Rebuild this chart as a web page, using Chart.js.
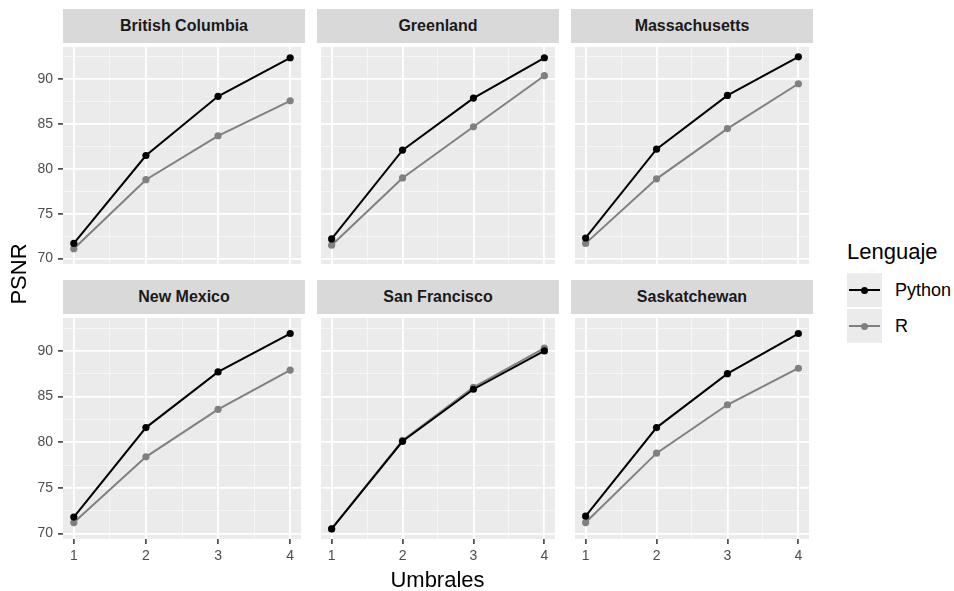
<!DOCTYPE html>
<html>
<head>
<meta charset="utf-8">
<script src="https://cdn.jsdelivr.net/npm/chart.js@4.4.1/dist/chart.umd.min.js"></script>
<style>
  html, body { margin: 0; padding: 0; background: #ffffff; }
  body { width: 954px; height: 591px; position: relative; overflow: hidden;
         font-family: "Liberation Sans", Arial, Helvetica, sans-serif; }
  canvas { position: absolute; }
  .strip { position: absolute; background: #D9D9D9; color: #1A1A1A; font-weight: bold;
           font-size: 16px; text-align: center; }
  .txt { position: absolute; white-space: nowrap; color: #000; }
  .key { position: absolute; width: 35px; height: 34px; background: #EBEBEB; }
  .key .ln { position: absolute; left: 2px; width: 31px; top: 16px; height: 2px; }
  .key .pt { position: absolute; left: 13.5px; top: 13.5px; width: 7px; height: 7px; border-radius: 50%; }
</style>
</head>
<body>
<script>
// ---- Data ----
const thresholds = [1, 2, 3, 4];
const xTickValues = [1, 1.5, 2, 2.5, 3, 3.5, 4];
const yTickValues = [70, 72.5, 75, 77.5, 80, 82.5, 85, 87.5, 90, 92.5];
const regions = ['British Columbia', 'Greenland', 'Massachusetts', 'New Mexico', 'San Francisco', 'Saskatchewan'];
const languages = ['Python', 'R'];

const pythonBritishColumbia = [71.7, 81.5, 88.1, 92.4];
const rBritishColumbia      = [71.1, 78.8, 83.7, 87.6];
const pythonGreenland       = [72.2, 82.1, 87.9, 92.4];
const rGreenland            = [71.5, 79.0, 84.7, 90.4];
const pythonMassachusetts   = [72.3, 82.2, 88.2, 92.5];
const rMassachusetts        = [71.7, 78.9, 84.5, 89.5];
const pythonNewMexico       = [71.8, 81.6, 87.7, 91.9];
const rNewMexico            = [71.2, 78.4, 83.6, 87.9];
const pythonSanFrancisco    = [70.5, 80.1, 85.8, 90.0];
const rSanFrancisco         = [70.5, 80.2, 86.0, 90.3];
const pythonSaskatchewan    = [71.9, 81.6, 87.5, 91.9];
const rSaskatchewan         = [71.2, 78.8, 84.1, 88.1];

const pythonByRegion = [pythonBritishColumbia, pythonGreenland, pythonMassachusetts, pythonNewMexico, pythonSanFrancisco, pythonSaskatchewan];
const rByRegion = [rBritishColumbia, rGreenland, rMassachusetts, rNewMexico, rSanFrancisco, rSaskatchewan];

// ---- Layout ----
const plotLefts = [63, 317, 571];
const plotTops = [43, 314];
const plotW = 242, plotH = 225, stripH = 34;
const colors = { Python: '#000000', R: '#808080' };

const allVals = pythonByRegion.flat().concat(rByRegion.flat());
const lo = Math.min(...allVals), hi = Math.max(...allVals);
const yPad = 0.05 * (hi - lo);
const yMin = lo - yPad, yMax = hi + yPad;
const xMin = 0.85, xMax = 4.15;

const bgPlugin = {
  id: 'panelBg',
  beforeDraw(chart) {
    const a = chart.chartArea, c = chart.ctx;
    c.save(); c.fillStyle = '#EBEBEB';
    c.fillRect(a.left, a.top, a.right - a.left, a.bottom - a.top);
    c.restore();
  }
};

const font = "'Liberation Sans', Arial, Helvetica, sans-serif";
function zeroPad(s) { s.paddingTop = 0; s.paddingBottom = 0; s.paddingLeft = 0; s.paddingRight = 0; }

regions.forEach((name, idx) => {
  const col = idx % 3, row = Math.floor(idx / 3);
  const axisW = col === 0 ? 50 : 0;
  const axisH = row === 1 ? 30 : 0;

  const strip = document.createElement('div');
  strip.className = 'strip';
  strip.textContent = name;
  Object.assign(strip.style, { left: plotLefts[col] + 'px', top: (plotTops[row] - stripH) + 'px',
    width: plotW + 'px', height: stripH + 'px', lineHeight: stripH + 'px' });
  document.body.appendChild(strip);

  const cv = document.createElement('canvas');
  const w = plotW + axisW, h = plotH + axisH;
  cv.width = w; cv.height = h;
  Object.assign(cv.style, { left: (plotLefts[col] - axisW) + 'px', top: plotTops[row] + 'px',
    width: w + 'px', height: h + 'px' });
  document.body.appendChild(cv);

  const mk = (lang, arr) => ({
    label: lang,
    data: thresholds.map((t, i) => ({ x: t, y: arr[i] })),
    borderColor: colors[lang], backgroundColor: colors[lang],
    pointBackgroundColor: colors[lang], pointBorderWidth: 0,
    pointRadius: 3.6, borderWidth: 2, tension: 0, showLine: true
  });

  new Chart(cv, {
    type: 'scatter',
    data: { datasets: [mk('Python', pythonByRegion[idx]), mk('R', rByRegion[idx])] },
    options: {
      responsive: false, animation: false, events: [],
      layout: { padding: 0 },
      plugins: { legend: { display: false }, tooltip: { enabled: false } },
      scales: {
        x: {
          type: 'linear', min: xMin, max: xMax,
          afterBuildTicks: s => { s.ticks = xTickValues.map(v => ({ value: v })); },
          afterFit: s => { s.height = axisH; zeroPad(s); },
          border: { display: false },
          grid: {
            color: c => Number.isInteger(c.tick.value) ? '#FFFFFF' : '#F7F7F7',
            lineWidth: c => Number.isInteger(c.tick.value) ? 1.8 : 0.9,
            drawTicks: axisH > 0, tickLength: 5, tickWidth: 1.5,
            tickColor: c => Number.isInteger(c.tick.value) ? '#333333' : 'rgba(0,0,0,0)'
          },
          ticks: {
            display: axisH > 0, autoSkip: false, maxRotation: 0, padding: 4,
            color: '#4D4D4D', font: { family: font, size: 14 },
            callback: v => Number.isInteger(v) ? String(v) : ''
          }
        },
        y: {
          type: 'linear', min: yMin, max: yMax,
          afterBuildTicks: s => { s.ticks = yTickValues.map(v => ({ value: v })); },
          afterFit: s => { s.width = axisW; zeroPad(s); },
          border: { display: false },
          grid: {
            color: c => (c.tick.value % 5 === 0) ? '#FFFFFF' : '#F7F7F7',
            lineWidth: c => (c.tick.value % 5 === 0) ? 1.8 : 0.9,
            drawTicks: axisW > 0, tickLength: 5, tickWidth: 1.5,
            tickColor: c => (c.tick.value % 5 === 0) ? '#333333' : 'rgba(0,0,0,0)'
          },
          ticks: {
            display: axisW > 0, autoSkip: false, padding: 5,
            color: '#4D4D4D', font: { family: font, size: 14 },
            callback: v => (v % 5 === 0) ? String(v) : ''
          }
        }
      }
    },
    plugins: [bgPlugin]
  });
});

// ---- Axis titles ----
function addText(txt, css) {
  const d = document.createElement('div');
  d.className = 'txt'; d.textContent = txt;
  Object.assign(d.style, css);
  document.body.appendChild(d);
  return d;
}
addText('Umbrales', { left: '337.5px', width: '200px', textAlign: 'center', top: '567px', fontSize: '22px', lineHeight: '26px' });
addText('PSNR', { left: '-81.5px', width: '200px', textAlign: 'center', top: '261px', fontSize: '22px', lineHeight: '26px', transform: 'rotate(-90deg)' });

// ---- Legend ----
addText('Lenguaje', { left: '847px', top: '239px', fontSize: '22px', lineHeight: '26px' });
const keyTops = [273, 309];
languages.forEach((lang, i) => {
  const k = document.createElement('div');
  k.className = 'key';
  k.style.left = '847px'; k.style.top = keyTops[i] + 'px';
  const ln = document.createElement('div'); ln.className = 'ln'; ln.style.background = colors[lang];
  const pt = document.createElement('div'); pt.className = 'pt'; pt.style.background = colors[lang];
  k.appendChild(ln); k.appendChild(pt);
  document.body.appendChild(k);
  addText(lang, { left: '895px', top: (keyTops[i] + 6) + 'px', fontSize: '18px', lineHeight: '22px' });
});
</script>
</body>
</html>
